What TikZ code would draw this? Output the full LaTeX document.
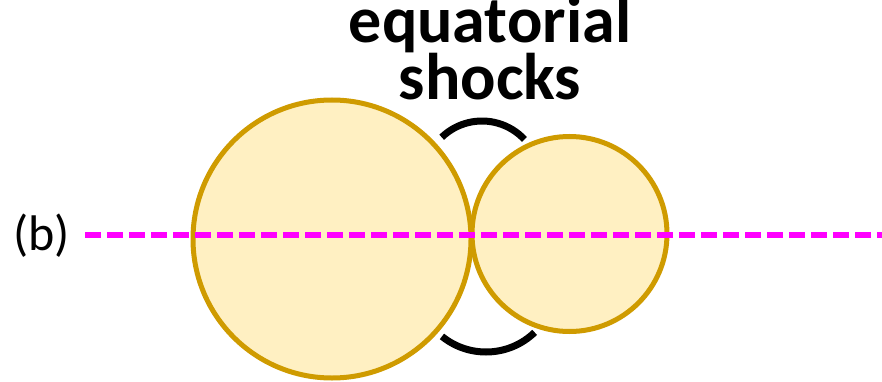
\documentclass[tikz,border=0pt]{standalone}
\usepackage{fontspec}
\setmainfont{Carlito}
\usepackage{tikz}
\usetikzlibrary{calc,positioning}
\definecolor{bubblegold}{RGB}{207,155,0}
\definecolor{bubblefill}{RGB}{255,240,194}
\definecolor{axismagenta}{RGB}{255,0,255}

\begin{document}
\begin{tikzpicture}[x=1pt, y=-1pt, every node/.style={inner sep=0pt, outer sep=0pt}]
  \useasboundingbox (0,0) rectangle (882,382);
  \tikzset{
    bubble/.style={draw=bubblegold, fill=bubblefill, line width=5pt},
    shockarc/.style={draw=black, line width=7pt},
    axisline/.style={draw=axismagenta, line width=5.5pt, dash pattern=on 16pt off 6pt},
    bigtext/.style={font=\fontsize{66}{43}\selectfont\bfseries, align=center, anchor=base}
  }
  \coordinate (big) at (332,239);
  \coordinate (small) at (569.5,234);
  \draw[bubble] (big) circle (139);
  \draw[bubble] (small) circle (97.5);
  % symmetry axis
  \coordinate (axisL) at (85,235);
  \coordinate (axisR) at (882,235);
  \draw[axisline] (axisL) -- (axisR);
  % shock arcs (y axis points down, so angles are mirrored)
  \coordinate (topc) at (482,179);
  \coordinate (botc) at (486,282);
  \draw[shockarc] ($(topc)+(-134:58)$) arc[start angle=-134, end angle=-43, radius=58];
  \draw[shockarc] ($(botc)+(129:70)$) arc[start angle=129, end angle=46, radius=70];
  % labels (base anchor sits on the last line)
  \node[bigtext] (shocklabel) at (490,100) {equatorial\\shocks};
  \node[font=\fontsize{50}{56}\selectfont, anchor=base west] (panel) at (13,250) {(b)};
\end{tikzpicture}
\end{document}
